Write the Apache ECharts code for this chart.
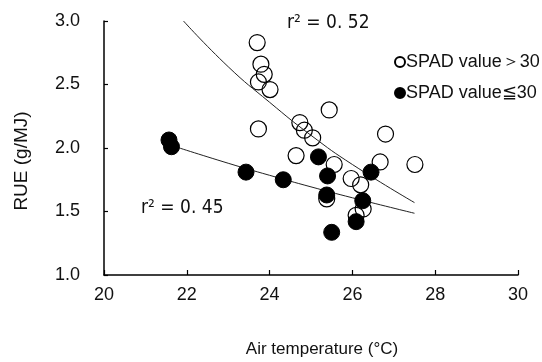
<!DOCTYPE html>
<html>
<head>
<meta charset="utf-8">
<script src="https://cdn.jsdelivr.net/npm/echarts@6/dist/echarts.min.js"></script>
<style>
html,body{margin:0;padding:0;background:#fff;}
#chart{width:542px;height:362px;}
</style>
</head>
<body>
<div id="chart"></div>
<script>
// Open circles: SPAD value > 30
const openX = [23.70, 23.79, 23.87, 23.73, 24.01, 23.73, 24.73, 24.84, 25.04, 25.44, 24.64, 25.56, 25.38, 25.97, 26.20, 26.67, 26.80, 27.51, 26.26, 26.09];
const openY = [2.83, 2.66, 2.58, 2.52, 2.46, 2.15, 2.20, 2.14, 2.08, 2.30, 1.94, 1.87, 1.60, 1.76, 1.71, 1.89, 2.11, 1.87, 1.52, 1.47];
// Filled circles: SPAD value <= 30
const filledX = [21.57, 21.63, 23.43, 24.33, 25.18, 25.40, 25.38, 25.50, 26.09, 26.25, 26.45];
const filledY = [2.063, 2.01, 1.81, 1.75, 1.93, 1.78, 1.63, 1.336, 1.42, 1.585, 1.81];
// Fitted curves
const openFitX = [21.92, 23.0, 24.0, 25.0, 26.0, 27.5];
const openFitY = [3.00, 2.64, 2.36, 2.10, 1.87, 1.57];
const filledFitX = [21.67, 23.0, 24.0, 25.0, 26.0, 27.5];
const filledFitY = [2.016, 1.880, 1.785, 1.694, 1.608, 1.486];
// Axis ticks
const xTicks = [20, 22, 24, 26, 28, 30];
const yTicks = [1.0, 1.5, 2.0, 2.5, 3.0];
const seriesNames = ['SPAD value\uFF1E30', 'SPAD value\u226630'];
const r2Labels = ['r\u00B2 = 0. 52', 'r\u00B2 = 0. 45'];
const xName = 'Air temperature (\u00B0C)';
const yName = 'RUE (g/MJ)';

const zip = (a, b) => a.map((v, i) => [v, b[i]]);
const font = '"Liberation Sans", Arial, sans-serif';
const narrow = '"Liberation Sans Narrow", "DejaVu Sans Condensed", sans-serif';
const ink = '#111';

const chart = echarts.init(document.getElementById('chart'), null, {renderer: 'canvas'});
chart.setOption({
  animation: false,
  backgroundColor: '#fff',
  grid: {left: 104, right: 24, top: 21, bottom: 87},
  xAxis: {
    type: 'value', min: xTicks[0], max: xTicks[xTicks.length - 1], interval: 2,
    axisLine: {show: true, onZero: false, lineStyle: {color: '#000', width: 1.5}},
    axisTick: {show: true, inside: true, length: 5, lineStyle: {color: '#000', width: 1.2}},
    splitLine: {show: false},
    axisLabel: {color: ink, fontSize: 18, fontFamily: font, margin: 11}
  },
  yAxis: {
    type: 'value', min: yTicks[0], max: yTicks[yTicks.length - 1], interval: 0.5,
    axisLine: {show: true, onZero: false, lineStyle: {color: '#000', width: 1.5}},
    axisTick: {show: true, inside: true, length: 4, lineStyle: {color: '#000', width: 1.2}},
    splitLine: {show: false},
    axisLabel: {color: ink, fontSize: 18, fontFamily: font, margin: 24,
      formatter: v => v.toFixed(1)}
  },
  legend: {
    orient: 'vertical', left: 394, top: 52, padding: 0,
    itemWidth: 10, itemHeight: 10, itemGap: 11,
    icon: 'circle',
    textStyle: {color: ink, fontSize: 18, fontFamily: font, lineHeight: 20, padding: [0, 0, 0, -4]},
    data: seriesNames
  },
  series: [
    {
      name: seriesNames[0], type: 'scatter', symbol: 'circle', symbolSize: 16, z: 2,
      itemStyle: {color: 'rgba(255,255,255,0)', borderColor: '#000', borderWidth: 1.2, opacity: 1},
      data: zip(openX, openY)
    },
    {
      name: 'fit1', type: 'line', smooth: true, symbol: 'none', z: 3,
      lineStyle: {color: '#222', width: 1},
      data: zip(openFitX, openFitY)
    },
    {
      name: 'fit2', type: 'line', smooth: true, symbol: 'none', z: 3,
      lineStyle: {color: '#222', width: 1},
      data: zip(filledFitX, filledFitY)
    },
    {
      name: seriesNames[1], type: 'scatter', symbol: 'circle', symbolSize: 16, z: 4,
      itemStyle: {color: '#000', borderColor: '#000', borderWidth: 1, opacity: 1},
      data: zip(filledX, filledY)
    }
  ],
  graphic: [
    {type: 'text', left: 287, top: 14, style: {text: r2Labels[0], fontSize: 19, fill: ink, fontFamily: narrow}},
    {type: 'text', left: 141, top: 199, style: {text: r2Labels[1], fontSize: 19, fill: ink, fontFamily: narrow}},
    {type: 'text', x: 322, y: 349, style: {text: xName, fontSize: 17, fill: ink, fontFamily: font,
      align: 'center', verticalAlign: 'middle'}},
    {type: 'text', x: 22, y: 161, rotation: Math.PI / 2, style: {text: yName, fontSize: 19, fill: ink, fontFamily: font,
      align: 'center', verticalAlign: 'middle'}}
  ]
});
</script>
</body>
</html>
